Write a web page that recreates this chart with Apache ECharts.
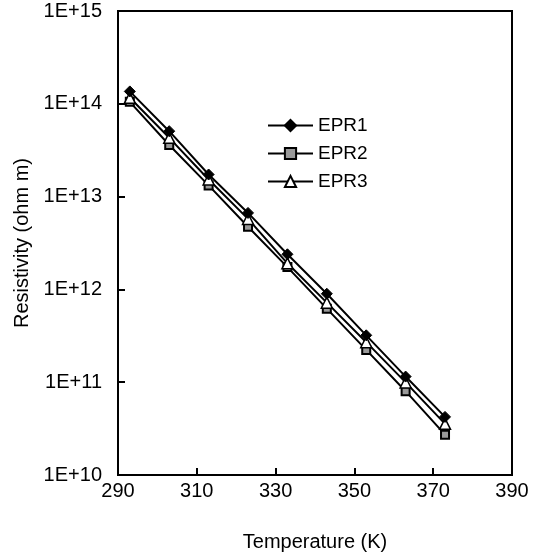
<!DOCTYPE html>
<html>
<head>
<meta charset="utf-8">
<script src="https://cdn.jsdelivr.net/npm/echarts@6/dist/echarts.min.js"></script>
<style>html,body{margin:0;padding:0;background:#fff;}#c{width:544px;height:557px;}</style>
</head>
<body>
<div id="c"></div>
<script>
var temperatures = [293, 303, 313, 323, 333, 343, 353, 363, 373];
var epr1 = [1.36e14, 5.07e13, 1.73e13, 6.67e12, 2.39e12, 8.98e11, 3.2e11, 1.15e11, 4.23e10];
var epr2 = [1.05e14, 3.6e13, 1.32e13, 4.73e12, 1.74e12, 6.2e11, 2.23e11, 8.0e10, 2.72e10];
var epr3 = [1.16e14, 4.3e13, 1.53e13, 5.75e12, 1.91e12, 7.2e11, 2.7e11, 9.95e10, 3.56e10];
var seriesNames = ['EPR1', 'EPR2', 'EPR3'];

function pairs(vals) { return temperatures.map(function (t, i) { return [t, vals[i]]; }); }
var FONT = 'Liberation Sans, Arial, sans-serif';

var chart = echarts.init(document.getElementById('c'));
chart.setOption({
  animation: false,
  backgroundColor: '#fff',
  grid: { left: 118, right: 32, top: 11, bottom: 75, show: true, borderColor: '#000', borderWidth: 2, backgroundColor: 'transparent' },
  legend: {
    orient: 'vertical', left: 262, top: 111,
    itemWidth: 45, itemHeight: 14, itemGap: 9,
    textStyle: { fontFamily: FONT, fontSize: 19, color: '#000' },
    data: seriesNames
  },
  xAxis: {
    type: 'value', min: 290, max: 390, interval: 20,
    name: 'Temperature (K)', nameLocation: 'middle', nameGap: 57,
    nameTextStyle: { fontFamily: FONT, fontSize: 20, color: '#000' },
    axisLine: { lineStyle: { color: '#000', width: 2 } },
    axisTick: { inside: true, length: 7, lineStyle: { color: '#000', width: 2 } },
    axisLabel: { fontFamily: FONT, fontSize: 20, color: '#000', margin: 6 },
    splitLine: { show: false }
  },
  yAxis: {
    type: 'log', logBase: 10, min: 1e10, max: 1e15,
    name: 'Resistivity (ohm m)', nameLocation: 'middle', nameGap: 80,
    nameTextStyle: { fontFamily: FONT, fontSize: 20, color: '#000' },
    axisLine: { lineStyle: { color: '#000', width: 2 } },
    axisTick: { inside: true, length: 7, lineStyle: { color: '#000', width: 2 } },
    axisLabel: { fontFamily: FONT, fontSize: 20, color: '#000', margin: 16,
      formatter: function (v) { return '1E+' + Math.round(Math.log10(v)); } },
    splitLine: { show: false },
    minorTick: { show: false }
  },
  series: [
    { name: 'EPR2', type: 'line', data: pairs(epr2), symbol: 'rect', symbolSize: 8,
      lineStyle: { color: '#000', width: 2 }, itemStyle: { color: '#999', borderColor: '#000', borderWidth: 2 }, z: 2 },
    { name: 'EPR3', type: 'line', data: pairs(epr3), symbol: 'triangle', symbolSize: 11,
      lineStyle: { color: '#000', width: 2 }, itemStyle: { color: '#fff', borderColor: '#000', borderWidth: 1.5 }, z: 3 },
    { name: 'EPR1', type: 'line', data: pairs(epr1), symbol: 'diamond', symbolSize: 11,
      lineStyle: { color: '#000', width: 2 }, itemStyle: { color: '#000', borderColor: '#000', borderWidth: 1 }, z: 4 }
  ]
});
</script>
</body>
</html>
